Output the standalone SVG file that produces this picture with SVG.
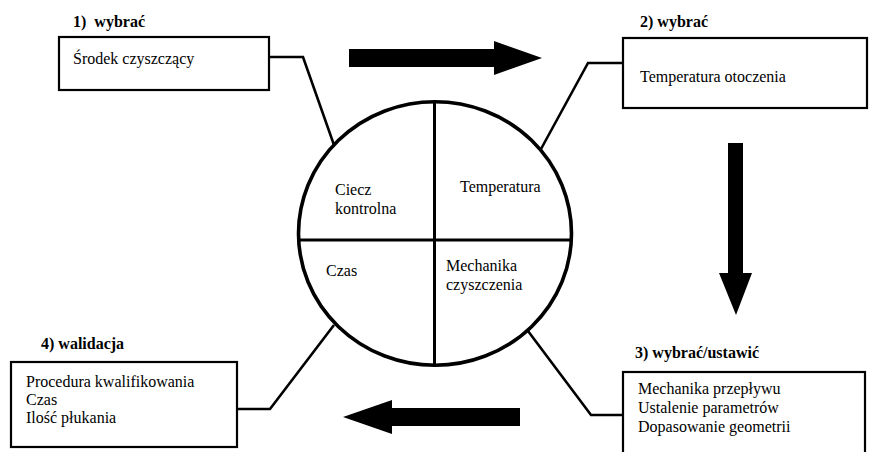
<svg xmlns="http://www.w3.org/2000/svg" width="869" height="452" viewBox="0 0 869 452">
  <style>
    .box { fill: #fff; stroke: #000; stroke-width: 2.2; }
    .link { fill: none; stroke: #000; stroke-width: 2.6; stroke-linejoin: miter; }
    .wheel { fill: #fff; stroke: #000; stroke-width: 3.6; }
    .cross { stroke: #000; stroke-width: 3; }
    .arrow { fill: #000; }
    text { font-family: "Liberation Serif", "Times New Roman", serif; font-size: 16px; fill: #000; }
    .head { font-weight: bold; }
  </style>

  <!-- connectors between boxes and the central wheel -->
  <g id="connectors">
    <polyline class="link" points="269,57 303,57 334,145"/>
    <polyline class="link" points="623,63 588,63 541,149"/>
    <polyline class="link" points="528,331 591,415 623,415"/>
    <polyline class="link" points="237,409 270,409 334,325"/>
  </g>

  <!-- flow arrows -->
  <g id="flow-arrows">
    <polygon class="arrow" points="349,49 494,49 494,41 542,58 494,75 494,67 349,67"/>
    <polygon class="arrow" points="728,143 743,143 743,273 752,273 736,315 719,273 728,273"/>
    <polygon class="arrow" points="520,408 520,426 392,426 392,434 343,417 392,400 392,408"/>
  </g>

  <!-- central wheel -->
  <g id="wheel">
    <ellipse class="wheel" cx="435" cy="233.5" rx="136.5" ry="131.8"/>
    <line class="cross" x1="434.5" y1="101" x2="434.5" y2="366"/>
    <line class="cross" x1="298" y1="240" x2="572" y2="240"/>
    <text x="335" y="195">Ciecz</text>
    <text x="335" y="214">kontrolna</text>
    <text x="460" y="192">Temperatura</text>
    <text x="326" y="276">Czas</text>
    <text x="446" y="271">Mechanika</text>
    <text x="446" y="290">czyszczenia</text>
  </g>

  <!-- step 1 -->
  <g id="step1">
    <text class="head" x="73" y="27">1)&#160; wybrać</text>
    <rect class="box" x="59" y="37" width="210" height="53"/>
    <text x="73" y="64">Środek czyszczący</text>
  </g>

  <!-- step 2 -->
  <g id="step2">
    <text class="head" x="640" y="27">2) wybrać</text>
    <rect class="box" x="623" y="38" width="244" height="70"/>
    <text x="640" y="82">Temperatura otoczenia</text>
  </g>

  <!-- step 3 -->
  <g id="step3">
    <text class="head" x="635" y="358">3) wybrać/ustawić</text>
    <rect class="box" x="623" y="372" width="242" height="90"/>
    <text x="638" y="394">Mechanika przepływu</text>
    <text x="638" y="413">Ustalenie parametrów</text>
    <text x="638" y="432">Dopasowanie geometrii</text>
  </g>

  <!-- step 4 -->
  <g id="step4">
    <text class="head" x="41" y="349">4) walidacja</text>
    <rect class="box" x="11" y="362" width="226" height="85"/>
    <text x="26" y="387">Procedura kwalifikowania</text>
    <text x="26" y="405">Czas</text>
    <text x="26" y="423">Ilość płukania</text>
  </g>
</svg>
